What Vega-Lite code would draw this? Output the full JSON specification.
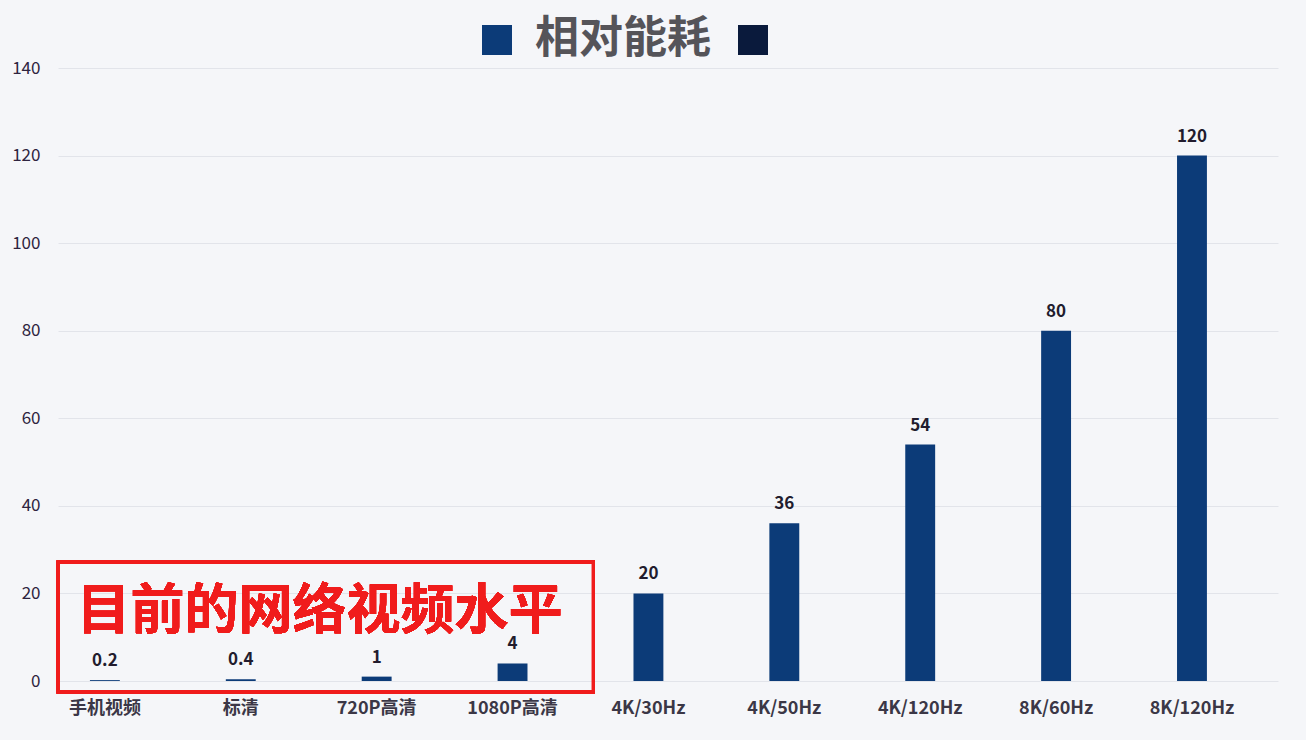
{
  "$schema": "https://vega.github.io/schema/vega-lite/v6.json",
  "description": "相对能耗 bar chart",
  "width": 1220,
  "height": 613,
  "autosize": "none",
  "padding": {"left": 58, "top": 68, "right": 28, "bottom": 59},
  "background": "#f5f6f9",
  "data": {
    "values": [
      {"format": "手机视频", "power": 0.2, "series": "相对能耗"},
      {"format": "标清", "power": 0.4, "series": "相对能耗"},
      {"format": "720P高清", "power": 1, "series": "相对能耗"},
      {"format": "1080P高清", "power": 4, "series": "相对能耗"},
      {"format": "4K/30Hz", "power": 20, "series": "相对能耗"},
      {"format": "4K/50Hz", "power": 36, "series": "相对能耗"},
      {"format": "4K/120Hz", "power": 54, "series": "相对能耗"},
      {"format": "8K/60Hz", "power": 80, "series": "相对能耗"},
      {"format": "8K/120Hz", "power": 120, "series": "相对能耗"}
    ]
  },
  "layer": [
    {
      "encoding": {
        "x": {
          "field": "format",
          "type": "nominal",
          "sort": null,
          "scale": {"paddingInner": 0.78, "paddingOuter": 0.379, "align": 0.31},
          "axis": {
            "title": null,
            "labelAngle": 0,
            "labelPadding": 18,
            "labelFontSize": 18,
            "labelFontWeight": "bold",
            "labelColor": "#3b3746",
            "ticks": false,
            "domain": false,
            "grid": false
          }
        },
        "y": {
          "field": "power",
          "type": "quantitative",
          "scale": {"domain": [0, 140], "nice": false},
          "axis": {
            "title": null,
            "values": [0, 20, 40, 60, 80, 100, 120, 140],
            "labelPadding": 18,
            "labelFontSize": 17,
            "labelColor": "#2e2440",
            "ticks": false,
            "domain": false,
            "gridColor": "#e2e4ea"
          }
        }
      },
      "layer": [
        {
          "mark": {"type": "bar"},
          "encoding": {
            "color": {
              "field": "series",
              "type": "nominal",
              "scale": {"domain": ["相对能耗", "系列2"], "range": ["#0c3b78", "#0a1a3c"]},
              "legend": {
                "title": null,
                "orient": "none",
                "legendX": 417,
                "legendY": -50,
                "direction": "horizontal",
                "symbolType": "square",
                "symbolSize": 900,
                "symbolStrokeWidth": 0,
                "labelFontSize": 44,
                "labelFontWeight": "bold",
                "labelColor": "#555459",
                "labelOffset": 16,
                "labelLimit": 400,
                "columnPadding": 20,
                "labelExpr": "datum.label == '系列2' ? '' : datum.label"
              }
            }
          }
        },
        {
          "mark": {"type": "text", "dy": -19, "fontSize": 17, "fontWeight": "bold", "color": "#221c2e"},
          "encoding": {
            "text": {"field": "power", "type": "quantitative"}
          }
        }
      ]
    },
    {
      "mark": {"type": "rect", "fill": null, "stroke": "#f01c1c", "strokeWidth": 3},
      "encoding": {
        "x": {"datum": 0, "type": "quantitative", "scale": {"domain": [0, 9]}, "axis": null},
        "x2": {"datum": 3.95},
        "y": {"datum": -2.5},
        "y2": {"datum": 27.2}
      }
    },
    {
      "mark": {"type": "text", "fontSize": 54, "fontWeight": "bold", "color": "#f01c1c", "baseline": "middle"},
      "encoding": {
        "x": {"datum": 1.93, "type": "quantitative", "scale": {"domain": [0, 9]}, "axis": null},
        "y": {"datum": 15.6},
        "text": {"value": "目前的网络视频水平"}
      }
    }
  ],
  "resolve": {"scale": {"x": "independent"}},
  "config": {
    "font": "Noto Sans CJK SC",
    "view": {"stroke": null}
  }
}
